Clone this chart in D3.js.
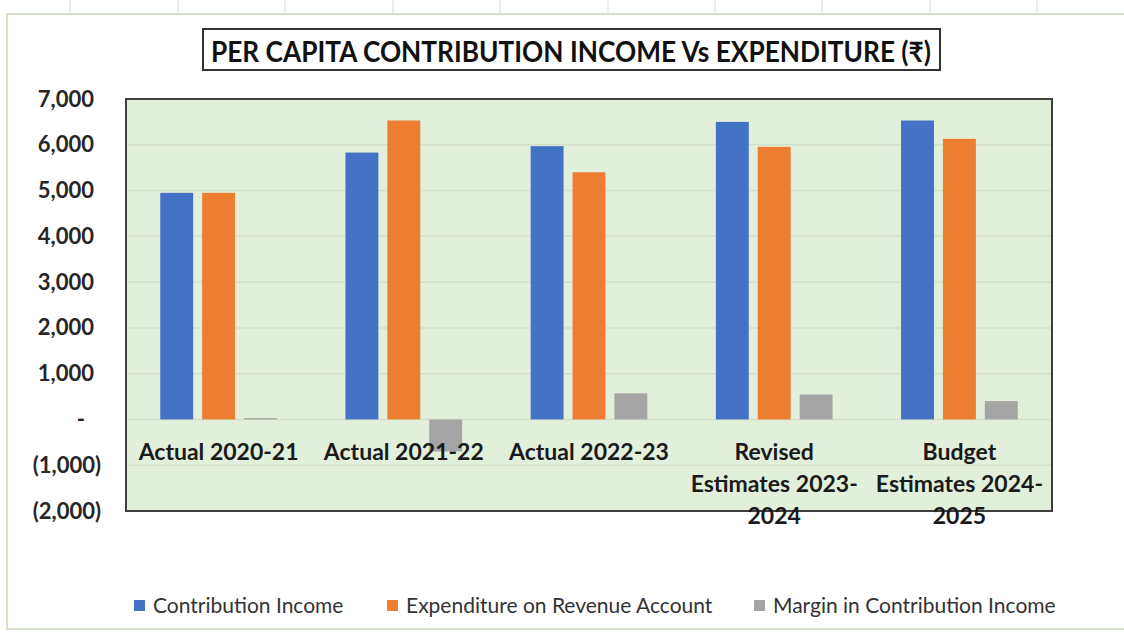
<!DOCTYPE html>
<html lang="en">
<head>
<meta charset="UTF-8">
<title>Per Capita Contribution Income Vs Expenditure</title>
<script src="https://d3js.org/d3.v7.min.js"></script>
<style>
  body { margin: 0; background: #fff; }
  text { font-family: Lato, "Open Sans", sans-serif; }
</style>
</head>
<body>
<svg width="1124" height="634"></svg>
<script>
// data
var categories = [["Actual 2020-21"], ["Actual 2021-22"], ["Actual 2022-23"],
                  ["Revised", "Estimates 2023-", "2024"], ["Budget", "Estimates 2024-", "2025"]];
var contributionIncome = [4950, 5830, 5970, 6500, 6530];
var expenditureRevenue = [4950, 6530, 5400, 5955, 6130];
var marginContribution = [30, -700, 570, 545, 400];
var seriesNames = ["Contribution Income", "Expenditure on Revenue Account", "Margin in Contribution Income"];
var seriesColors = ["#4472c4", "#ed7d31", "#a5a5a5"];
var yTicks = [-2000, -1000, 0, 1000, 2000, 3000, 4000, 5000, 6000, 7000];

var svg = d3.select("svg");

// spreadsheet cells behind the chart
var cellLines = [70, 178, 285, 393, 500, 608, 715, 822, 930, 1037];
svg.selectAll(".cell").data(cellLines).enter().append("line")
    .attr("x1", function (d) { return d; }).attr("x2", function (d) { return d; })
    .attr("y1", 0).attr("y2", 13)
    .attr("stroke", "#dcdcdc").attr("stroke-width", 1);

// chart area border
svg.append("rect")
    .attr("x", 7).attr("y", 14).attr("width", 1130).attr("height", 615)
    .attr("fill", "#fff").attr("stroke", "#d5e2c9").attr("stroke-width", 2);

var plotL = 126, plotR = 1052, plotT = 99, plotB = 511;

var y = d3.scaleLinear().domain([-2000, 7000]).range([plotB, plotT]);
var x0 = d3.scaleBand().domain(d3.range(categories.length))
    .range([plotL, plotR]).paddingInner(0.37).paddingOuter(0.185);
var x1 = d3.scaleBand().domain([0, 1, 2]).range([0, x0.bandwidth()]).paddingInner(0.214);

// plot area
svg.append("rect")
    .attr("x", plotL).attr("y", plotT).attr("width", plotR - plotL).attr("height", plotB - plotT)
    .attr("fill", "#e2efda");

svg.append("g").selectAll("line").data(yTicks).enter().append("line")
    .attr("x1", plotL).attr("x2", plotR)
    .attr("y1", function (d) { return y(d); }).attr("y2", function (d) { return y(d); })
    .attr("stroke", "#d3e0c9").attr("stroke-width", 1.5);

// bars
var all = [contributionIncome, expenditureRevenue, marginContribution];
var groups = svg.append("g").selectAll("g").data(categories).enter().append("g")
    .attr("transform", function (d, i) { return "translate(" + x0(i) + ",0)"; });
groups.selectAll("rect")
    .data(function (d, i) { return all.map(function (s, k) { return { k: k, v: s[i] }; }); })
    .enter().append("rect")
    .attr("x", function (d) { return x1(d.k); })
    .attr("y", function (d) { return y(Math.max(0, d.v)); })
    .attr("width", x1.bandwidth())
    .attr("height", function (d) { return Math.abs(y(d.v) - y(0)); })
    .attr("fill", function (d) { return seriesColors[d.k]; });

svg.append("rect")
    .attr("x", plotL).attr("y", plotT).attr("width", plotR - plotL).attr("height", plotB - plotT)
    .attr("fill", "none").attr("stroke", "#404040").attr("stroke-width", 2);

// y axis labels, accounting style
var fmt = d3.format(",");
var yAxis = svg.append("g")
    .attr("transform", "translate(101,0)")
    .call(d3.axisLeft(y).tickValues(yTicks).tickSize(0).tickPadding(0)
        .tickFormat(function (d) { return d < 0 ? "(" + fmt(-d) + ")" : d === 0 ? "-" : fmt(d); }));
yAxis.select(".domain").remove();
yAxis.selectAll("text")
    .attr("x", function (d) { return d < 0 ? 0 : d === 0 ? -16 : -7; })
    .style("font-family", "Lato, sans-serif")
    .style("font-size", "22px").style("font-weight", "bold").attr("fill", "#262626");

// category labels
var xl = svg.append("g").selectAll("text").data(categories).enter().append("text")
    .attr("x", function (d, i) { return x0(i) + x0.bandwidth() / 2; })
    .attr("y", 460)
    .attr("text-anchor", "middle")
    .style("font-size", "23px").style("font-weight", "bold").attr("fill", "#1a1a1a");
xl.selectAll("tspan").data(function (d) { return d; }).enter().append("tspan")
    .attr("x", function () { return d3.select(this.parentNode).attr("x"); })
    .attr("dy", function (d, i) { return i === 0 ? 0 : 32; })
    .text(function (d) { return d; });

// title
svg.append("rect")
    .attr("x", 203).attr("y", 29).attr("width", 737).attr("height", 41)
    .attr("fill", "#fff").attr("stroke", "#333").attr("stroke-width", 2);
svg.append("text")
    .attr("x", 571).attr("y", 62)
    .attr("text-anchor", "middle")
    .attr("textLength", 720).attr("lengthAdjust", "spacingAndGlyphs")
    .style("font-size", "28px").style("font-weight", "bold").attr("fill", "#111")
    .text("PER CAPITA CONTRIBUTION INCOME Vs EXPENDITURE (\u20B9)");

// legend
var legendX = [134, 387, 754];
var lg = svg.append("g").selectAll("g").data(seriesNames).enter().append("g")
    .attr("transform", function (d, i) { return "translate(" + legendX[i] + ",606)"; });
lg.append("rect").attr("x", 0).attr("y", -6).attr("width", 11).attr("height", 11)
    .attr("fill", function (d, i) { return seriesColors[i]; });
lg.append("text").attr("x", 19).attr("y", 7)
    .style("font-size", "21px").attr("fill", "#333")
    .text(function (d) { return d; });
</script>
</body>
</html>
